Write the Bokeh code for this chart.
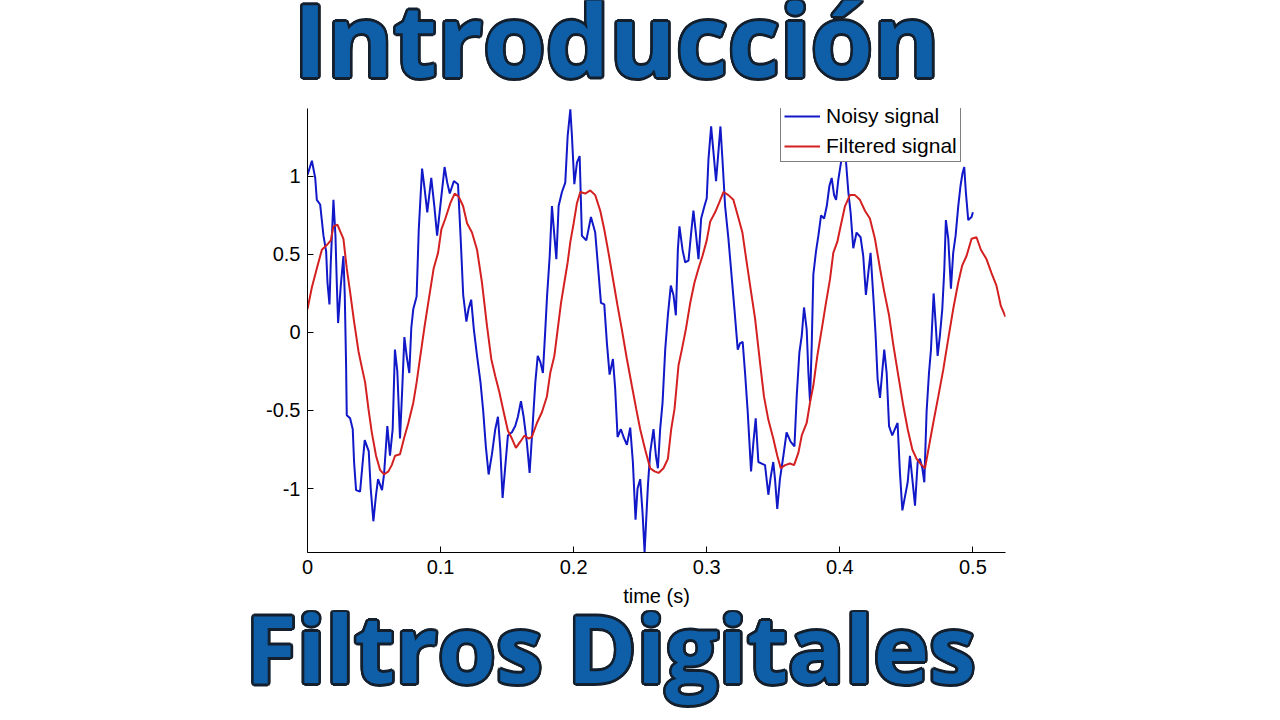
from bokeh.plotting import figure
from bokeh.models import Range1d, Legend, LegendItem, FixedTicker
from bokeh.layouts import column
from bokeh.core.properties import value
from bokeh.embed import file_html
from bokeh.resources import INLINE
import math

title_top = "Introducción"
title_bottom = "Filtros Digitales"
x_label = "time (s)"
series_names = ["Noisy signal", "Filtered signal"]

x_ticks = [0, 0.1, 0.2, 0.3, 0.4, 0.5]
x_tick_labels = ["0", "0.1", "0.2", "0.3", "0.4", "0.5"]
y_ticks = [-1, -0.5, 0, 0.5, 1]
y_tick_labels = ["-1", "-0.5", "0", "0.5", "1"]

noisy_t = [0.0, 0.0033, 0.0058, 0.007, 0.0095, 0.012, 0.014, 0.015, 0.0165, 0.0175, 0.0195, 0.021, 0.022, 0.023,
           0.025, 0.027, 0.028, 0.029, 0.0295, 0.032, 0.034, 0.035, 0.0365, 0.0395, 0.0415, 0.043, 0.046, 0.0475,
           0.0495, 0.0515, 0.053, 0.056, 0.0575, 0.060, 0.062, 0.064, 0.0657, 0.0675, 0.0695, 0.071, 0.0728, 0.0745,
           0.0765, 0.078, 0.0795, 0.082, 0.0836, 0.0861, 0.088, 0.090, 0.093, 0.0953, 0.0974, 0.0998, 0.103, 0.105,
           0.1069, 0.110, 0.1131, 0.115, 0.117, 0.1194, 0.121, 0.123, 0.125, 0.1274, 0.130, 0.132, 0.134, 0.1361,
           0.1386, 0.1411, 0.1431, 0.1449, 0.1466, 0.1486, 0.1506, 0.1536, 0.1561, 0.1581, 0.1604, 0.1624, 0.1649,
           0.1669, 0.169, 0.1712, 0.173, 0.175, 0.1769, 0.1787, 0.180, 0.182, 0.1837, 0.1855, 0.187, 0.1887, 0.1912,
           0.1937, 0.1955, 0.1975, 0.1987, 0.2005, 0.2025, 0.2045, 0.2062, 0.2095, 0.213, 0.2162, 0.2187, 0.2205,
           0.223, 0.225, 0.227, 0.2295, 0.2312, 0.233, 0.2355, 0.2375, 0.240, 0.2425, 0.2445, 0.2465, 0.248, 0.250,
           0.2518, 0.2533, 0.2558, 0.2575, 0.260, 0.2618, 0.2633, 0.265, 0.2668, 0.2688, 0.2708, 0.273, 0.275,
           0.2768, 0.2783, 0.2795, 0.2818, 0.2838, 0.2863, 0.2883, 0.290, 0.2918, 0.2938, 0.2958, 0.2983, 0.300,
           0.3013, 0.3033, 0.305, 0.307, 0.3088, 0.3103, 0.3118, 0.3138, 0.3163, 0.3183, 0.3208, 0.3233, 0.325,
           0.327, 0.3288, 0.3308, 0.3333, 0.335, 0.3368, 0.3388, 0.3413, 0.3438, 0.3463, 0.348, 0.350, 0.3513,
           0.353, 0.355, 0.3576, 0.360, 0.363, 0.3659, 0.3676, 0.3696, 0.3714, 0.3731, 0.3751, 0.3764, 0.3776,
           0.3789, 0.3801, 0.3821, 0.3839, 0.3859, 0.3882, 0.3902, 0.3922, 0.3939, 0.3957, 0.3972, 0.3989, 0.4009,
           0.4026, 0.4046, 0.4064, 0.4081, 0.4101, 0.4126, 0.4156, 0.4176, 0.4196, 0.4214, 0.4231, 0.4251, 0.4268,
           0.4284, 0.4302, 0.432, 0.4334, 0.4352, 0.437, 0.4394, 0.4414, 0.4434, 0.4452, 0.447, 0.449, 0.451,
           0.4527, 0.4545, 0.4565, 0.4585, 0.4602, 0.462, 0.4635, 0.4652, 0.467, 0.4685, 0.4705, 0.472, 0.4735,
           0.4752, 0.477, 0.4785, 0.4797, 0.4815, 0.4835, 0.4852, 0.487, 0.489, 0.4907, 0.4922, 0.4935, 0.4947,
           0.4965, 0.499, 0.500]
noisy_y = [1.01, 1.10, 0.99, 0.85, 0.82, 0.62, 0.52, 0.32, 0.18, 0.45, 0.85, 0.62, 0.32, 0.06,
           0.30, 0.49, 0.24, -0.21, -0.53, -0.55, -0.62, -0.83, -1.01, -1.02, -0.83, -0.69, -0.76, -1.00,
           -1.21, -1.04, -0.94, -1.01, -0.91, -0.60, -0.79, -0.62, -0.11, -0.25, -0.68, -0.40, -0.03, -0.15,
           -0.26, 0.03, 0.15, 0.23, 0.66, 1.05, 0.92, 0.77, 0.99, 0.81, 0.62, 0.81, 1.06, 0.96,
           0.89, 0.97, 0.95, 0.62, 0.24, 0.07, 0.15, 0.21, 0.02, -0.15, -0.32, -0.50, -0.73, -0.91,
           -0.78, -0.62, -0.54, -0.75, -1.06, -0.86, -0.66, -0.64, -0.60, -0.54, -0.44, -0.54, -0.71,
           -0.90, -0.62, -0.32, -0.15, -0.19, -0.26, 0.02, 0.23, 0.49, 0.81, 0.62, 0.47, 0.81, 0.90,
           0.96, 1.26, 1.43, 1.26, 0.95, 1.09, 1.13, 0.62, 0.59, 0.74, 0.64, 0.38, 0.19,
           0.18, -0.07, -0.27, -0.17, -0.36, -0.67, -0.62, -0.67, -0.72, -0.61, -0.83, -1.20, -1.00, -0.94,
           -1.16, -1.41, -0.98, -0.77, -0.62, -0.79, -0.87, -0.62, -0.45, -0.11, 0.11, 0.30, 0.24,
           0.11, 0.53, 0.68, 0.53, 0.45, 0.46, 0.64, 0.78, 0.64, 0.47, 0.73, 0.81, 0.86,
           1.11, 1.32, 1.16, 0.97, 1.16, 1.32, 1.11, 0.81, 0.60, 0.40, 0.15, -0.11, -0.07,
           -0.06, -0.26, -0.51, -0.89, -0.71, -0.55, -0.83, -0.84, -0.85, -1.04, -0.93, -0.83, -0.94,
           -1.13, -0.94, -0.79, -0.64, -0.70, -0.73, -0.41, -0.13, -0.02, 0.16, 0.02, -0.26, -0.44,
           -0.08, 0.37, 0.52, 0.62, 0.75, 0.73, 0.81, 0.94, 0.99, 0.88, 0.85, 0.98, 1.09,
           1.14, 1.10, 0.90, 0.77, 0.54, 0.64, 0.61, 0.49, 0.24, 0.38, 0.51, 0.24, 0.0,
           -0.30, -0.42, -0.24, -0.11, -0.26, -0.60, -0.66, -0.62, -0.58, -0.90, -1.14, -1.05, -0.96,
           -0.79, -0.94, -1.11, -0.83, -0.81, -0.87, -0.96, -0.51, -0.26, -0.11, 0.25, 0.06, -0.15,
           -0.02, 0.15, 0.40, 0.72, 0.60, 0.28, 0.51, 0.62, 0.81, 0.94, 1.02, 1.06, 0.90,
           0.72, 0.74, 0.77]

filt_t = [0.0, 0.0033, 0.007, 0.0108, 0.0145, 0.0175, 0.0195, 0.0225, 0.025, 0.027, 0.0295, 0.032, 0.035,
          0.0383, 0.041, 0.0433, 0.0458, 0.0483, 0.0515, 0.0545, 0.0575, 0.0608, 0.0633, 0.0658, 0.0695,
          0.0725, 0.0758, 0.0795, 0.082, 0.0848, 0.088, 0.0911, 0.0948, 0.0981, 0.1006, 0.1036, 0.1074,
          0.1106, 0.1136, 0.1169, 0.1199, 0.1236, 0.1274, 0.1311, 0.1349, 0.1381, 0.1411, 0.1441, 0.1474,
          0.1506, 0.1536, 0.1566, 0.1599, 0.1631, 0.1661, 0.1686, 0.1724, 0.1762, 0.1799, 0.1824, 0.1855,
          0.188, 0.1905, 0.193, 0.1955, 0.1975, 0.200, 0.2025, 0.205, 0.2087, 0.2125, 0.2162, 0.220, 0.223,
          0.2262, 0.230, 0.233, 0.2362, 0.240, 0.2437, 0.247, 0.250, 0.2537, 0.2575, 0.2608, 0.2638, 0.2675,
          0.2708, 0.2733, 0.2758, 0.2788, 0.2813, 0.2843, 0.2876, 0.2908, 0.2938, 0.2968, 0.300, 0.3026,
          0.3063, 0.3093, 0.3126, 0.3163, 0.320, 0.3233, 0.3268, 0.330, 0.3333, 0.3363, 0.340, 0.343,
          0.3463, 0.350, 0.353, 0.3556, 0.3589, 0.3626, 0.3656, 0.3689, 0.3714, 0.3751, 0.3776, 0.3801,
          0.3831, 0.3864, 0.3896, 0.3926, 0.3951, 0.3981, 0.4006, 0.4039, 0.4076, 0.4114, 0.4151, 0.4189,
          0.4226, 0.4264, 0.4302, 0.4334, 0.437, 0.4402, 0.444, 0.4477, 0.451, 0.4545, 0.4577, 0.4615,
          0.464, 0.467, 0.4702, 0.474, 0.4777, 0.4815, 0.4852, 0.489, 0.492, 0.4952, 0.499, 0.5027, 0.506,
          0.5102, 0.514, 0.5177, 0.521, 0.5245]
filt_y = [0.15, 0.29, 0.41, 0.53, 0.56, 0.59, 0.68, 0.69, 0.64, 0.60, 0.41, 0.26, 0.07,
          -0.12, -0.23, -0.32, -0.49, -0.64, -0.79, -0.88, -0.91, -0.89, -0.85, -0.79, -0.78,
          -0.68, -0.58, -0.45, -0.32, -0.15, 0.04, 0.21, 0.41, 0.51, 0.66, 0.73, 0.83,
          0.89, 0.87, 0.81, 0.70, 0.64, 0.53, 0.32, 0.04, -0.17, -0.28, -0.38, -0.51,
          -0.63, -0.68, -0.74, -0.70, -0.66, -0.68, -0.67, -0.58, -0.51, -0.41, -0.26, -0.15,
          0.02, 0.19, 0.32, 0.45, 0.58, 0.70, 0.83, 0.90, 0.89, 0.91, 0.88, 0.78, 0.66,
          0.51, 0.32, 0.17, 0.02, -0.17, -0.34, -0.49, -0.62, -0.75, -0.87, -0.89, -0.90, -0.87,
          -0.81, -0.62, -0.49, -0.21, -0.11, 0.02, 0.19, 0.32, 0.41, 0.49, 0.59, 0.71,
          0.77, 0.83, 0.90, 0.88, 0.85, 0.75, 0.64, 0.45, 0.26, 0.09, -0.19, -0.41,
          -0.56, -0.68, -0.79, -0.87, -0.85, -0.84, -0.85, -0.77, -0.66, -0.58, -0.45, -0.34,
          -0.15, 0.02, 0.19, 0.34, 0.51, 0.58, 0.68, 0.81, 0.88, 0.88, 0.85, 0.78,
          0.73, 0.60, 0.41, 0.26, 0.11, -0.08, -0.28, -0.47, -0.62, -0.75, -0.81, -0.85,
          -0.87, -0.73, -0.58, -0.41, -0.24, -0.04, 0.15, 0.32, 0.43, 0.49, 0.60, 0.61, 0.53,
          0.47, 0.38, 0.30, 0.17, 0.10]

W = 1280
TOP_H, MAIN_H, BOT_H = 100, 510, 110


def banner(text, h, cx, cy_from_top, size):
    # banner figure whose data units equal screen pixels
    f = figure(width=W, height=h, output_backend="svg", toolbar_location=None,
               x_range=Range1d(0, W), y_range=Range1d(0, h), x_axis_type=None, y_axis_type=None,
               min_border=0)
    f.outline_line_color = None
    f.grid.grid_line_color = None
    f.background_fill_color = "white"
    f.border_fill_color = "white"
    cy = h - cy_from_top
    n = 16
    r = 2.6
    xs = [cx + r * math.cos(2 * math.pi * k / n) for k in range(n)]
    ys = [cy + r * math.sin(2 * math.pi * k / n) for k in range(n)]
    f.text(x=xs, y=ys, text=[text] * n, text_align="center", text_baseline="middle",
           text_font=value("Open Sans"), text_font_style="bold",
           text_font_size=size, text_color="#14202e")
    f.text(x=[cx], y=[cy], text=[text], text_align="center", text_baseline="middle",
           text_font=value("Open Sans"), text_font_style="bold",
           text_font_size=size, text_color="#0f5fa8")
    return f


top = banner(title_top, TOP_H, 616, 37.5, "101px")

p = figure(width=W, height=MAIN_H, output_backend="svg", toolbar_location=None,
           x_range=Range1d(0, 0.5245), y_range=Range1d(-1.41, 1.435),
           min_border_left=307, min_border_right=275, min_border_top=8, min_border_bottom=58)
p.outline_line_color = None
p.grid.grid_line_color = None
p.background_fill_color = "white"
p.border_fill_color = "white"

blue = "#1018c8"
red = "#d42020"
r1 = p.line(noisy_t, noisy_y, line_color=blue, line_width=2)
r2 = p.line(filt_t, filt_y, line_color=red, line_width=2)

for ax in (p.xaxis[0], p.yaxis[0]):
    ax.major_tick_in = 6
    ax.major_tick_out = 0
    ax.minor_tick_line_color = None
    ax.axis_line_color = "black"
    ax.major_tick_line_color = "black"
    ax.major_label_text_font = "Liberation Sans"
    ax.major_label_text_font_size = "20px"
    ax.major_label_text_color = "black"
    ax.major_label_standoff = 7
p.xaxis[0].ticker = FixedTicker(ticks=x_ticks)
p.xaxis[0].major_label_overrides = {t: s for t, s in zip(x_ticks, x_tick_labels)}
p.yaxis[0].ticker = FixedTicker(ticks=y_ticks)
p.yaxis[0].major_label_overrides = {t: s for t, s in zip(y_ticks, y_tick_labels)}
p.xaxis[0].axis_label = x_label
p.xaxis[0].axis_label_text_font = "Liberation Sans"
p.xaxis[0].axis_label_text_font_size = "20px"
p.xaxis[0].axis_label_text_font_style = "normal"
p.xaxis[0].axis_label_text_color = "black"
p.xaxis[0].axis_label_standoff = 8

legend = Legend(items=[LegendItem(label=series_names[0], renderers=[r1]),
                       LegendItem(label=series_names[1], renderers=[r2])],
                location=(473, 390), orientation="vertical")
legend.label_text_font = "Liberation Sans"
legend.label_text_font_size = "21px"
legend.label_text_color = "black"
legend.label_height = 22
legend.glyph_height = 22
legend.glyph_width = 36
legend.label_standoff = 6
legend.spacing = 6
legend.padding = 3
legend.margin = 0
legend.border_line_color = "black"
legend.border_line_width = 1
legend.background_fill_alpha = 1
p.add_layout(legend)

bottom = banner(title_bottom, BOT_H, 610, 646.5 - (TOP_H + MAIN_H), "94px")

# keep the banners' frames independent of the main plot's frame
try:
    for fig in (top, p, bottom):
        fig.frame_align = False
    out = column(top, p, bottom, spacing=0)
except Exception:
    out = [top, p, bottom]

open("out.html", "w").write(file_html(out, INLINE))
